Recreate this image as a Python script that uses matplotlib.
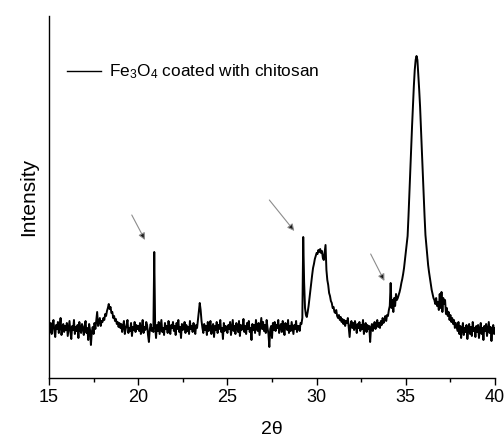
import matplotlib
import numpy as np

matplotlib.use("Agg")
import matplotlib.pyplot as plt

plt.rcParams["font.family"] = ["Liberation Sans", "DejaVu Sans"]
plt.rcParams["mathtext.fontset"] = "custom"
plt.rcParams["mathtext.rm"] = "Liberation Sans"
plt.rcParams["mathtext.it"] = "Liberation Sans:italic"

# 2-theta grid, 0.05 deg step
TWO_THETA = np.round(np.linspace(15.0, 40.0, 501), 2)

# intensity (arb. units), one list per degree: 15.00 ... 15.95, 16.00 ... etc.
I_15 = [50, 46, 55, 44, 52, 58, 47, 41, 53, 49, 56, 45, 51, 60, 43, 50, 54, 46, 52, 48]
I_16 = [55, 42, 50, 57, 46, 39, 52, 48, 58, 44, 51, 47, 53, 40, 56, 49, 45, 54, 50, 43]
I_17 = [52, 57, 45, 50, 38, 54, 48, 33, 46, 51, 44, 55, 49, 58, 66, 52, 56, 60, 52, 57]
I_18 = [56, 60, 58, 64, 62, 67, 70, 74, 69, 71, 65, 66, 60, 62, 57, 59, 54, 56, 51, 55]
I_19 = [50, 54, 46, 52, 57, 44, 49, 53, 58, 45, 50, 47, 55, 42, 51, 48, 56, 46, 53, 49]
I_20 = [52, 47, 55, 44, 50, 58, 45, 51, 48, 56, 53, 43, 36, 49, 54, 47, 50, 46, 126, 52]
I_21 = [40, 53, 47, 56, 44, 51, 58, 46, 50, 43, 55, 49, 52, 45, 57, 48, 44, 53, 50, 56]
I_22 = [47, 52, 43, 55, 49, 58, 46, 51, 40, 54, 48, 50, 56, 45, 53, 47, 51, 44, 57, 49]
I_23 = [52, 46, 55, 49, 44, 53, 50, 58, 66, 75, 68, 57, 50, 45, 54, 48, 52, 43, 56, 47]
I_24 = [51, 57, 44, 50, 54, 41, 52, 48, 56, 45, 53, 49, 58, 46, 50, 39, 55, 47, 52, 51]
I_25 = [45, 53, 49, 56, 43, 51, 58, 47, 52, 44, 55, 50, 46, 57, 42, 53, 48, 51, 59, 46]
I_26 = [52, 44, 55, 49, 57, 46, 50, 38, 54, 48, 53, 45, 58, 50, 47, 55, 43, 52, 60, 49]
I_27 = [56, 47, 53, 45, 58, 50, 44, 31, 49, 52, 40, 55, 48, 56, 47, 53, 50, 58, 45, 51]
I_28 = [54, 46, 57, 49, 43, 55, 51, 48, 58, 45, 52, 47, 56, 50, 44, 53, 49, 57, 46, 52]
I_29 = [52, 47, 55, 54, 60, 141, 96, 70, 63, 61, 66, 72, 80, 88, 95, 103, 110, 114, 119, 122]
I_30 = [125, 124, 128, 126, 129, 125, 127, 120, 118, 126, 133, 108, 98, 93, 85, 82, 77, 75, 70, 71]
I_31 = [66, 65, 68, 62, 60, 63, 58, 61, 56, 59, 54, 58, 52, 57, 55, 60, 51, 41, 53, 57]
I_32 = [50, 55, 48, 57, 52, 45, 54, 50, 56, 47, 53, 49, 58, 44, 51, 55, 46, 53, 49, 52]
I_33 = [36, 50, 54, 47, 52, 56, 49, 53, 58, 51, 55, 50, 57, 53, 60, 55, 58, 62, 57, 63]
I_34 = [62, 68, 72, 95, 70, 78, 66, 80, 72, 84, 78, 80, 83, 86, 90, 95, 99, 104, 110, 118]
I_35 = [126, 134, 142, 162, 185, 208, 230, 252, 273, 292, 308, 318, 322, 318, 303, 288, 271, 250, 227, 205]
I_36 = [183, 162, 143, 133, 122, 113, 106, 100, 94, 88, 84, 80, 78, 74, 80, 72, 76, 68, 84, 70]
I_37 = [86, 66, 80, 74, 78, 64, 70, 62, 66, 58, 63, 56, 60, 54, 58, 50, 55, 51, 47, 56]
I_38 = [44, 52, 40, 49, 55, 43, 50, 46, 53, 39, 48, 54, 44, 51, 42, 56, 47, 50, 41, 52]
I_39 = [46, 53, 40, 49, 55, 44, 50, 38, 52, 47, 54, 42, 49, 56, 45, 51, 37, 48, 53, 44]
I_40 = [50]

# arrows marking the extra reflections: (tail x, tail y) -> (head x, head y)
ARROWS = [
    ((19.64, 163), (20.38, 138)),
    ((27.35, 178), (28.75, 147)),
    ((33.03, 124), (33.80, 97)),
]

LEGEND_LABEL = "Fe$_3$O$_4$ coated with chitosan"


def main() -> None:
    intensity = np.array(
        I_15 + I_16 + I_17 + I_18 + I_19 + I_20 + I_21 + I_22 + I_23 + I_24
        + I_25 + I_26 + I_27 + I_28 + I_29 + I_30 + I_31 + I_32 + I_33 + I_34
        + I_35 + I_36 + I_37 + I_38 + I_39 + I_40,
        dtype=float,
    )

    fig = plt.figure(figsize=(5.04, 4.38), dpi=100, facecolor="white")
    ax = fig.add_axes([0.0972, 0.137, 0.885, 0.8265])
    ax.plot(TWO_THETA, intensity, color="black", linewidth=1.4)

    for tail, head in ARROWS:
        ax.annotate(
            "",
            xy=head,
            xytext=tail,
            arrowprops=dict(
                arrowstyle="-|>",
                mutation_scale=10,
                lw=0.8,
                ec="0.55",
                fc="0.1",
                shrinkA=0,
                shrinkB=0,
            ),
        )

    ax.set_xlim(15, 40)
    ax.set_ylim(0, 362)
    ax.set_xticks(np.arange(15, 41, 5))
    ax.set_xticks(np.arange(17.5, 40, 5), minor=True)
    ax.tick_params(axis="x", which="major", direction="out", length=5, width=1.0, labelsize=13, pad=3)
    ax.tick_params(axis="x", which="minor", direction="out", length=3, width=1.0)
    ax.set_yticks([])
    ax.spines["top"].set_visible(False)
    ax.spines["right"].set_visible(False)
    ax.spines["left"].set_linewidth(1.0)
    ax.spines["bottom"].set_linewidth(1.0)

    ax.set_xlabel("2θ", fontsize=14, labelpad=11)
    ax.set_ylabel("Intensity", fontsize=15, labelpad=8)

    # legend entry drawn with a thinner sample line, as in the original
    handle = plt.Line2D([], [], color="black", linewidth=1.0)
    ax.legend(
        [handle],
        [LEGEND_LABEL],
        loc="center left",
        bbox_to_anchor=(0.040, 0.845),
        frameon=False,
        fontsize=12.4,
        handlelength=2.0,
        handletextpad=0.45,
        borderpad=0,
        borderaxespad=0,
    )

    fig.savefig("out.png", dpi=100, facecolor="white")
    plt.close(fig)


if __name__ == "__main__":
    main()
